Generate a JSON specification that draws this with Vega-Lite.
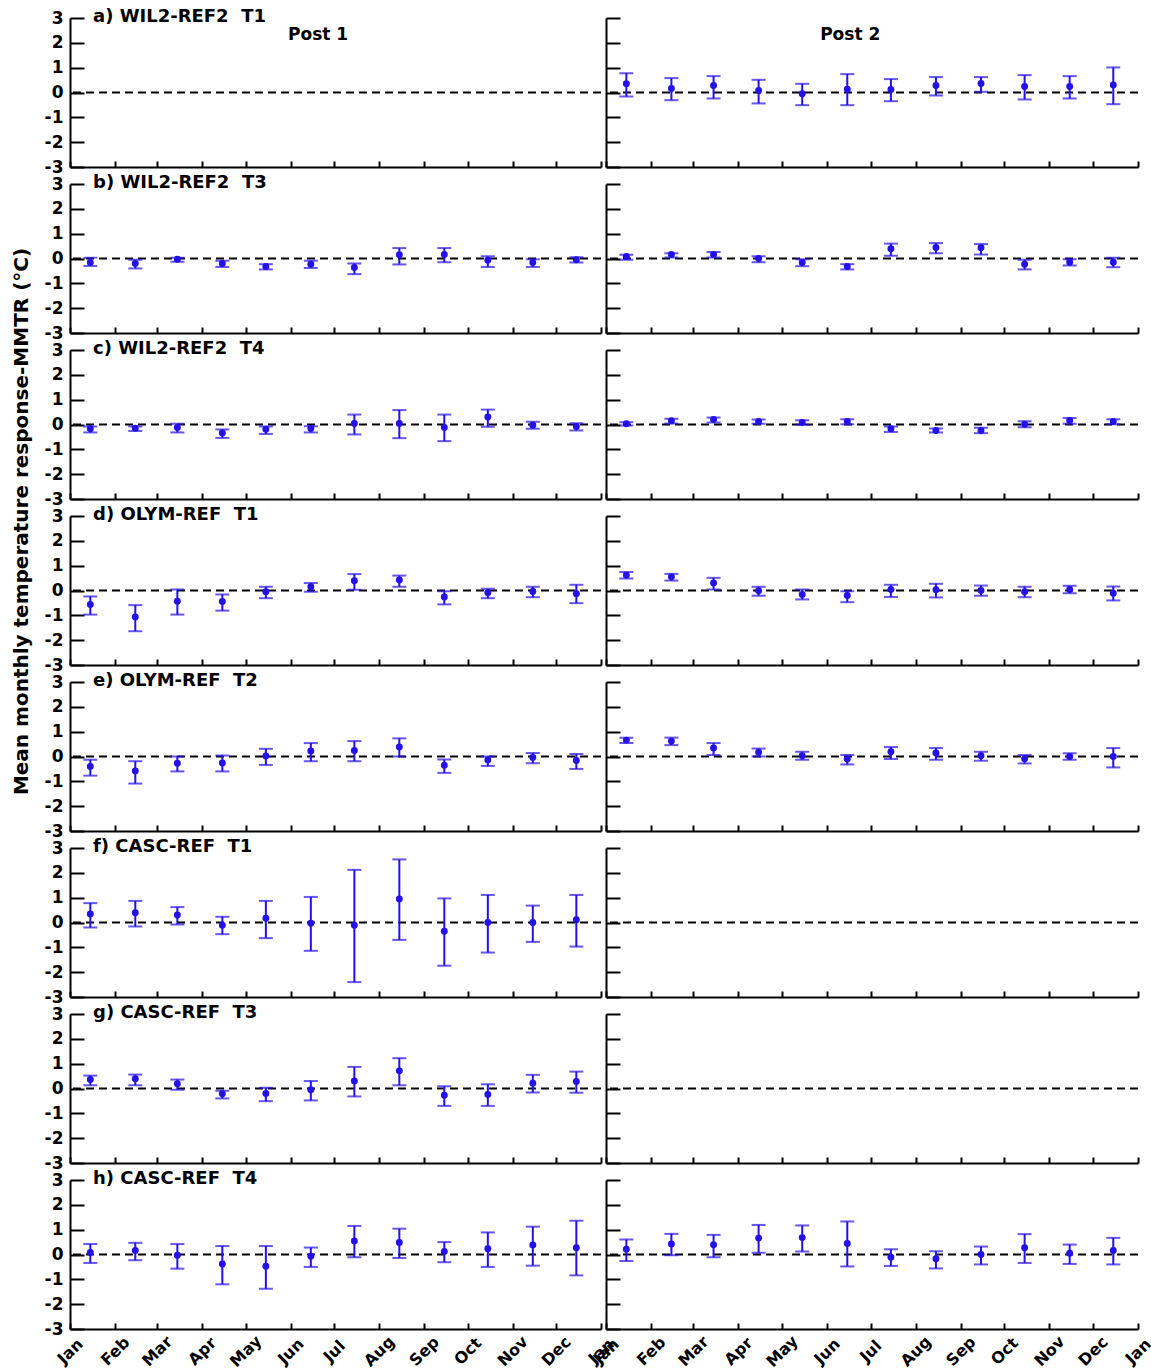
{
"$schema":"https://vega.github.io/schema/vega-lite/v6.json",
"padding":{"left":10,"top":8,"right":5,"bottom":5},
"bounds":"flush","spacing":{"row":17,"column":5},"columns":2,
"datasets":{"pts":[
{"p":"a","s":2,"m":"2000-01-15","v":0.35,"lo":-0.16,"hi":0.78},
{"p":"a","s":2,"m":"2000-02-15","v":0.16,"lo":-0.31,"hi":0.58},
{"p":"a","s":2,"m":"2000-03-15","v":0.28,"lo":-0.24,"hi":0.66},
{"p":"a","s":2,"m":"2000-04-15","v":0.08,"lo":-0.44,"hi":0.51},
{"p":"a","s":2,"m":"2000-05-15","v":-0.05,"lo":-0.51,"hi":0.35},
{"p":"a","s":2,"m":"2000-06-15","v":0.13,"lo":-0.51,"hi":0.74},
{"p":"a","s":2,"m":"2000-07-15","v":0.12,"lo":-0.35,"hi":0.54},
{"p":"a","s":2,"m":"2000-08-15","v":0.28,"lo":-0.12,"hi":0.62},
{"p":"a","s":2,"m":"2000-09-15","v":0.36,"lo":0.03,"hi":0.62},
{"p":"a","s":2,"m":"2000-10-15","v":0.24,"lo":-0.28,"hi":0.70},
{"p":"a","s":2,"m":"2000-11-15","v":0.24,"lo":-0.24,"hi":0.66},
{"p":"a","s":2,"m":"2000-12-15","v":0.30,"lo":-0.47,"hi":1.01},
{"p":"b","s":1,"m":"2000-01-15","v":-0.16,"lo":-0.30,"hi":0.03},
{"p":"b","s":1,"m":"2000-02-15","v":-0.20,"lo":-0.40,"hi":-0.05},
{"p":"b","s":1,"m":"2000-03-15","v":-0.03,"lo":-0.13,"hi":0.03},
{"p":"b","s":1,"m":"2000-04-15","v":-0.20,"lo":-0.34,"hi":-0.09},
{"p":"b","s":1,"m":"2000-05-15","v":-0.32,"lo":-0.44,"hi":-0.23},
{"p":"b","s":1,"m":"2000-06-15","v":-0.23,"lo":-0.38,"hi":-0.09},
{"p":"b","s":1,"m":"2000-07-15","v":-0.36,"lo":-0.63,"hi":-0.20},
{"p":"b","s":1,"m":"2000-08-15","v":0.15,"lo":-0.24,"hi":0.42},
{"p":"b","s":1,"m":"2000-09-15","v":0.16,"lo":-0.15,"hi":0.42},
{"p":"b","s":1,"m":"2000-10-15","v":-0.07,"lo":-0.34,"hi":0.09},
{"p":"b","s":1,"m":"2000-11-15","v":-0.16,"lo":-0.34,"hi":-0.03},
{"p":"b","s":1,"m":"2000-12-15","v":-0.05,"lo":-0.16,"hi":0.05},
{"p":"b","s":2,"m":"2000-01-15","v":0.08,"lo":-0.05,"hi":0.15},
{"p":"b","s":2,"m":"2000-02-15","v":0.16,"lo":0.04,"hi":0.21},
{"p":"b","s":2,"m":"2000-03-15","v":0.16,"lo":0.04,"hi":0.26},
{"p":"b","s":2,"m":"2000-04-15","v":0.00,"lo":-0.15,"hi":0.09},
{"p":"b","s":2,"m":"2000-05-15","v":-0.16,"lo":-0.31,"hi":-0.03},
{"p":"b","s":2,"m":"2000-06-15","v":-0.32,"lo":-0.44,"hi":-0.23},
{"p":"b","s":2,"m":"2000-07-15","v":0.39,"lo":0.11,"hi":0.60},
{"p":"b","s":2,"m":"2000-08-15","v":0.44,"lo":0.21,"hi":0.62},
{"p":"b","s":2,"m":"2000-09-15","v":0.43,"lo":0.16,"hi":0.58},
{"p":"b","s":2,"m":"2000-10-15","v":-0.23,"lo":-0.44,"hi":-0.05},
{"p":"b","s":2,"m":"2000-11-15","v":-0.15,"lo":-0.28,"hi":-0.03},
{"p":"b","s":2,"m":"2000-12-15","v":-0.15,"lo":-0.35,"hi":0.03},
{"p":"c","s":1,"m":"2000-01-15","v":-0.17,"lo":-0.32,"hi":-0.08},
{"p":"c","s":1,"m":"2000-02-15","v":-0.15,"lo":-0.26,"hi":-0.08},
{"p":"c","s":1,"m":"2000-03-15","v":-0.12,"lo":-0.32,"hi":0.03},
{"p":"c","s":1,"m":"2000-04-15","v":-0.34,"lo":-0.54,"hi":-0.20},
{"p":"c","s":1,"m":"2000-05-15","v":-0.19,"lo":-0.38,"hi":-0.08},
{"p":"c","s":1,"m":"2000-06-15","v":-0.16,"lo":-0.32,"hi":-0.07},
{"p":"c","s":1,"m":"2000-07-15","v":0.04,"lo":-0.40,"hi":0.40},
{"p":"c","s":1,"m":"2000-08-15","v":0.04,"lo":-0.55,"hi":0.58},
{"p":"c","s":1,"m":"2000-09-15","v":-0.12,"lo":-0.67,"hi":0.40},
{"p":"c","s":1,"m":"2000-10-15","v":0.30,"lo":-0.09,"hi":0.60},
{"p":"c","s":1,"m":"2000-11-15","v":-0.03,"lo":-0.17,"hi":0.11},
{"p":"c","s":1,"m":"2000-12-15","v":-0.08,"lo":-0.24,"hi":0.05},
{"p":"c","s":2,"m":"2000-01-15","v":0.03,"lo":-0.04,"hi":0.09},
{"p":"c","s":2,"m":"2000-02-15","v":0.15,"lo":0.04,"hi":0.23},
{"p":"c","s":2,"m":"2000-03-15","v":0.20,"lo":0.08,"hi":0.28},
{"p":"c","s":2,"m":"2000-04-15","v":0.12,"lo":0.03,"hi":0.20},
{"p":"c","s":2,"m":"2000-05-15","v":0.08,"lo":-0.01,"hi":0.17},
{"p":"c","s":2,"m":"2000-06-15","v":0.12,"lo":0.01,"hi":0.21},
{"p":"c","s":2,"m":"2000-07-15","v":-0.17,"lo":-0.30,"hi":-0.08},
{"p":"c","s":2,"m":"2000-08-15","v":-0.24,"lo":-0.32,"hi":-0.16},
{"p":"c","s":2,"m":"2000-09-15","v":-0.24,"lo":-0.35,"hi":-0.13},
{"p":"c","s":2,"m":"2000-10-15","v":0.01,"lo":-0.11,"hi":0.13},
{"p":"c","s":2,"m":"2000-11-15","v":0.16,"lo":0.03,"hi":0.26},
{"p":"c","s":2,"m":"2000-12-15","v":0.12,"lo":0.01,"hi":0.21},
{"p":"d","s":1,"m":"2000-01-15","v":-0.56,"lo":-0.97,"hi":-0.24},
{"p":"d","s":1,"m":"2000-02-15","v":-1.07,"lo":-1.64,"hi":-0.59},
{"p":"d","s":1,"m":"2000-03-15","v":-0.43,"lo":-0.97,"hi":0.04},
{"p":"d","s":1,"m":"2000-04-15","v":-0.44,"lo":-0.81,"hi":-0.16},
{"p":"d","s":1,"m":"2000-05-15","v":-0.05,"lo":-0.31,"hi":0.15},
{"p":"d","s":1,"m":"2000-06-15","v":0.15,"lo":-0.05,"hi":0.30},
{"p":"d","s":1,"m":"2000-07-15","v":0.39,"lo":0.03,"hi":0.66},
{"p":"d","s":1,"m":"2000-08-15","v":0.42,"lo":0.15,"hi":0.60},
{"p":"d","s":1,"m":"2000-09-15","v":-0.26,"lo":-0.56,"hi":-0.03},
{"p":"d","s":1,"m":"2000-10-15","v":-0.09,"lo":-0.31,"hi":0.07},
{"p":"d","s":1,"m":"2000-11-15","v":-0.04,"lo":-0.27,"hi":0.15},
{"p":"d","s":1,"m":"2000-12-15","v":-0.13,"lo":-0.51,"hi":0.23},
{"p":"d","s":2,"m":"2000-01-15","v":0.62,"lo":0.48,"hi":0.74},
{"p":"d","s":2,"m":"2000-02-15","v":0.55,"lo":0.40,"hi":0.67},
{"p":"d","s":2,"m":"2000-03-15","v":0.30,"lo":0.04,"hi":0.51},
{"p":"d","s":2,"m":"2000-04-15","v":-0.01,"lo":-0.21,"hi":0.15},
{"p":"d","s":2,"m":"2000-05-15","v":-0.16,"lo":-0.36,"hi":0.04},
{"p":"d","s":2,"m":"2000-06-15","v":-0.20,"lo":-0.47,"hi":-0.03},
{"p":"d","s":2,"m":"2000-07-15","v":0.04,"lo":-0.26,"hi":0.23},
{"p":"d","s":2,"m":"2000-08-15","v":0.03,"lo":-0.28,"hi":0.27},
{"p":"d","s":2,"m":"2000-09-15","v":0.00,"lo":-0.21,"hi":0.20},
{"p":"d","s":2,"m":"2000-10-15","v":-0.05,"lo":-0.27,"hi":0.15},
{"p":"d","s":2,"m":"2000-11-15","v":0.04,"lo":-0.11,"hi":0.19},
{"p":"d","s":2,"m":"2000-12-15","v":-0.11,"lo":-0.40,"hi":0.16},
{"p":"e","s":1,"m":"2000-01-15","v":-0.40,"lo":-0.77,"hi":-0.13},
{"p":"e","s":1,"m":"2000-02-15","v":-0.58,"lo":-1.09,"hi":-0.19},
{"p":"e","s":1,"m":"2000-03-15","v":-0.27,"lo":-0.60,"hi":0.00},
{"p":"e","s":1,"m":"2000-04-15","v":-0.26,"lo":-0.60,"hi":0.04},
{"p":"e","s":1,"m":"2000-05-15","v":0.02,"lo":-0.34,"hi":0.31},
{"p":"e","s":1,"m":"2000-06-15","v":0.22,"lo":-0.19,"hi":0.54},
{"p":"e","s":1,"m":"2000-07-15","v":0.24,"lo":-0.19,"hi":0.62},
{"p":"e","s":1,"m":"2000-08-15","v":0.38,"lo":0.00,"hi":0.73},
{"p":"e","s":1,"m":"2000-09-15","v":-0.35,"lo":-0.66,"hi":-0.12},
{"p":"e","s":1,"m":"2000-10-15","v":-0.14,"lo":-0.38,"hi":0.00},
{"p":"e","s":1,"m":"2000-11-15","v":-0.04,"lo":-0.27,"hi":0.14},
{"p":"e","s":1,"m":"2000-12-15","v":-0.16,"lo":-0.50,"hi":0.10},
{"p":"e","s":2,"m":"2000-01-15","v":0.66,"lo":0.54,"hi":0.76},
{"p":"e","s":2,"m":"2000-02-15","v":0.62,"lo":0.46,"hi":0.76},
{"p":"e","s":2,"m":"2000-03-15","v":0.34,"lo":0.06,"hi":0.54},
{"p":"e","s":2,"m":"2000-04-15","v":0.17,"lo":0.00,"hi":0.32},
{"p":"e","s":2,"m":"2000-05-15","v":0.03,"lo":-0.13,"hi":0.19},
{"p":"e","s":2,"m":"2000-06-15","v":-0.10,"lo":-0.32,"hi":0.06},
{"p":"e","s":2,"m":"2000-07-15","v":0.19,"lo":-0.10,"hi":0.38},
{"p":"e","s":2,"m":"2000-08-15","v":0.14,"lo":-0.13,"hi":0.34},
{"p":"e","s":2,"m":"2000-09-15","v":0.03,"lo":-0.17,"hi":0.19},
{"p":"e","s":2,"m":"2000-10-15","v":-0.09,"lo":-0.28,"hi":0.06},
{"p":"e","s":2,"m":"2000-11-15","v":0.00,"lo":-0.13,"hi":0.13},
{"p":"e","s":2,"m":"2000-12-15","v":0.00,"lo":-0.44,"hi":0.34},
{"p":"f","s":1,"m":"2000-01-15","v":0.34,"lo":-0.20,"hi":0.78},
{"p":"f","s":1,"m":"2000-02-15","v":0.39,"lo":-0.16,"hi":0.87},
{"p":"f","s":1,"m":"2000-03-15","v":0.30,"lo":-0.08,"hi":0.62},
{"p":"f","s":1,"m":"2000-04-15","v":-0.11,"lo":-0.47,"hi":0.23},
{"p":"f","s":1,"m":"2000-05-15","v":0.17,"lo":-0.63,"hi":0.87},
{"p":"f","s":1,"m":"2000-06-15","v":-0.03,"lo":-1.14,"hi":1.03},
{"p":"f","s":1,"m":"2000-07-15","v":-0.11,"lo":-2.40,"hi":2.12},
{"p":"f","s":1,"m":"2000-08-15","v":0.95,"lo":-0.70,"hi":2.54},
{"p":"f","s":1,"m":"2000-09-15","v":-0.35,"lo":-1.74,"hi":0.97},
{"p":"f","s":1,"m":"2000-10-15","v":0.00,"lo":-1.21,"hi":1.11},
{"p":"f","s":1,"m":"2000-11-15","v":0.00,"lo":-0.78,"hi":0.68},
{"p":"f","s":1,"m":"2000-12-15","v":0.11,"lo":-0.97,"hi":1.11},
{"p":"g","s":1,"m":"2000-01-15","v":0.36,"lo":0.13,"hi":0.52},
{"p":"g","s":1,"m":"2000-02-15","v":0.39,"lo":0.13,"hi":0.56},
{"p":"g","s":1,"m":"2000-03-15","v":0.19,"lo":-0.05,"hi":0.36},
{"p":"g","s":1,"m":"2000-04-15","v":-0.21,"lo":-0.40,"hi":-0.09},
{"p":"g","s":1,"m":"2000-05-15","v":-0.20,"lo":-0.51,"hi":0.03},
{"p":"g","s":1,"m":"2000-06-15","v":-0.05,"lo":-0.48,"hi":0.30},
{"p":"g","s":1,"m":"2000-07-15","v":0.30,"lo":-0.32,"hi":0.87},
{"p":"g","s":1,"m":"2000-08-15","v":0.71,"lo":0.13,"hi":1.22},
{"p":"g","s":1,"m":"2000-09-15","v":-0.27,"lo":-0.70,"hi":0.09},
{"p":"g","s":1,"m":"2000-10-15","v":-0.24,"lo":-0.70,"hi":0.17},
{"p":"g","s":1,"m":"2000-11-15","v":0.21,"lo":-0.16,"hi":0.55},
{"p":"g","s":1,"m":"2000-12-15","v":0.28,"lo":-0.17,"hi":0.68},
{"p":"h","s":1,"m":"2000-01-15","v":0.08,"lo":-0.34,"hi":0.42},
{"p":"h","s":1,"m":"2000-02-15","v":0.16,"lo":-0.23,"hi":0.47},
{"p":"h","s":1,"m":"2000-03-15","v":-0.03,"lo":-0.57,"hi":0.42},
{"p":"h","s":1,"m":"2000-04-15","v":-0.38,"lo":-1.20,"hi":0.34},
{"p":"h","s":1,"m":"2000-05-15","v":-0.47,"lo":-1.38,"hi":0.34},
{"p":"h","s":1,"m":"2000-06-15","v":-0.07,"lo":-0.50,"hi":0.28},
{"p":"h","s":1,"m":"2000-07-15","v":0.54,"lo":-0.11,"hi":1.15},
{"p":"h","s":1,"m":"2000-08-15","v":0.48,"lo":-0.14,"hi":1.04},
{"p":"h","s":1,"m":"2000-09-15","v":0.12,"lo":-0.31,"hi":0.50},
{"p":"h","s":1,"m":"2000-10-15","v":0.23,"lo":-0.50,"hi":0.89},
{"p":"h","s":1,"m":"2000-11-15","v":0.38,"lo":-0.45,"hi":1.12},
{"p":"h","s":1,"m":"2000-12-15","v":0.27,"lo":-0.84,"hi":1.36},
{"p":"h","s":2,"m":"2000-01-15","v":0.21,"lo":-0.26,"hi":0.60},
{"p":"h","s":2,"m":"2000-02-15","v":0.42,"lo":-0.03,"hi":0.83},
{"p":"h","s":2,"m":"2000-03-15","v":0.39,"lo":-0.11,"hi":0.79},
{"p":"h","s":2,"m":"2000-04-15","v":0.66,"lo":0.07,"hi":1.19},
{"p":"h","s":2,"m":"2000-05-15","v":0.68,"lo":0.12,"hi":1.17},
{"p":"h","s":2,"m":"2000-06-15","v":0.44,"lo":-0.48,"hi":1.33},
{"p":"h","s":2,"m":"2000-07-15","v":-0.11,"lo":-0.46,"hi":0.21},
{"p":"h","s":2,"m":"2000-08-15","v":-0.17,"lo":-0.56,"hi":0.13},
{"p":"h","s":2,"m":"2000-09-15","v":0.00,"lo":-0.40,"hi":0.32},
{"p":"h","s":2,"m":"2000-10-15","v":0.27,"lo":-0.34,"hi":0.82},
{"p":"h","s":2,"m":"2000-11-15","v":0.05,"lo":-0.38,"hi":0.40},
{"p":"h","s":2,"m":"2000-12-15","v":0.16,"lo":-0.40,"hi":0.67}
]},
"config":{
"view":{"stroke":null},
"font":"DejaVu Sans",
"rule":{"color":"#2410e8","strokeWidth":2},
"tick":{"color":"#2410e8","thickness":2},
"circle":{"color":"#2410e8","size":48,"opacity":1},
"text":{"font":"DejaVu Sans","fontWeight":"bold","fontSize":18,"color":"black","align":"left","baseline":"middle"},
"axis":{"domainColor":"black","domainWidth":2,"tickColor":"black","tickWidth":2,"labelFont":"DejaVu Sans","labelFontWeight":"bold","labelColor":"black","titleFont":"DejaVu Sans","titleFontWeight":"bold","titleColor":"black","grid":false},
"axisX":{"tickSize":-6,"labels":false,"tickCount":{"interval":"month","step":1},"format":"%b","labelAngle":-45,"labelAlign":"center","labelBaseline":"middle","labelPadding":28,"labelFontSize":16,"labelFlush":false,"labelOverlap":false},
"axisY":{"tickSize":-14,"tickCount":7,"labelFontSize":17,"labelPadding":21,"titleFontSize":20,"labelExpr":"datum.value + ''"}
},
"concat":[
{"width":531,"height":149,"layer":[
{"data":{"values":[{}]},"mark":{"type":"rule","color":"black","strokeWidth":2,"strokeDash":[8,5]},"encoding":{"y":{"datum":0,"type":"quantitative","scale":{"domain":[-3,3]},"title":null}}},
{"data":{"name":"pts"},"transform":[{"filter":"datum.p=='a'&&datum.s==1"}],"encoding":{"x":{"field":"m","type":"temporal","title":null,"scale":{"domain":[{"year":2000,"month":1,"date":1},{"year":2001,"month":1,"date":1}]}}},"layer":[
{"mark":"rule","encoding":{"y":{"field":"lo","type":"quantitative","title":null},"y2":{"field":"hi"}}},
{"mark":{"type":"tick","orient":"horizontal","size":14},"encoding":{"y":{"field":"lo","type":"quantitative","title":null}}},
{"mark":{"type":"tick","orient":"horizontal","size":14},"encoding":{"y":{"field":"hi","type":"quantitative","title":null}}},
{"mark":"circle","encoding":{"y":{"field":"v","type":"quantitative","title":null}}}]},
{"data":{"values":[{"t":"a) WIL2-REF2\u00a0 T1"}]},"mark":{"type":"text","dx":23,"dy":-1},"encoding":{"x":{"datum":{"year":2000,"month":1,"date":1},"type":"temporal"},"y":{"datum":3,"type":"quantitative"},"text":{"field":"t"}}},
{"data":{"values":[{"t":"Post 1"}]},"mark":{"type":"text","align":"center","fontSize":17,"dy":17},"encoding":{"x":{"datum":{"year":2000,"month":6,"date":20},"type":"temporal"},"y":{"datum":3,"type":"quantitative"},"text":{"field":"t"}}}
]},
{"width":532,"height":149,"layer":[
{"data":{"values":[{}]},"mark":{"type":"rule","color":"black","strokeWidth":2,"strokeDash":[8,5]},"encoding":{"y":{"datum":0,"type":"quantitative","scale":{"domain":[-3,3]},"title":null,"axis":{"labels":false}}}},
{"data":{"name":"pts"},"transform":[{"filter":"datum.p=='a'&&datum.s==2"}],"encoding":{"x":{"field":"m","type":"temporal","title":null,"scale":{"domain":[{"year":2000,"month":1,"date":1},{"year":2001,"month":1,"date":1}]}}},"layer":[
{"mark":"rule","encoding":{"y":{"field":"lo","type":"quantitative","title":null},"y2":{"field":"hi"}}},
{"mark":{"type":"tick","orient":"horizontal","size":14},"encoding":{"y":{"field":"lo","type":"quantitative","title":null}}},
{"mark":{"type":"tick","orient":"horizontal","size":14},"encoding":{"y":{"field":"hi","type":"quantitative","title":null}}},
{"mark":"circle","encoding":{"y":{"field":"v","type":"quantitative","title":null}}}]},
{"data":{"values":[{"t":"Post 2"}]},"mark":{"type":"text","align":"center","fontSize":17,"dy":17},"encoding":{"x":{"datum":{"year":2000,"month":6,"date":17},"type":"temporal"},"y":{"datum":3,"type":"quantitative"},"text":{"field":"t"}}}
]},
{"width":531,"height":149,"layer":[
{"data":{"values":[{}]},"mark":{"type":"rule","color":"black","strokeWidth":2,"strokeDash":[8,5]},"encoding":{"y":{"datum":0,"type":"quantitative","scale":{"domain":[-3,3]},"title":null}}},
{"data":{"name":"pts"},"transform":[{"filter":"datum.p=='b'&&datum.s==1"}],"encoding":{"x":{"field":"m","type":"temporal","title":null,"scale":{"domain":[{"year":2000,"month":1,"date":1},{"year":2001,"month":1,"date":1}]}}},"layer":[
{"mark":"rule","encoding":{"y":{"field":"lo","type":"quantitative","title":null},"y2":{"field":"hi"}}},
{"mark":{"type":"tick","orient":"horizontal","size":14},"encoding":{"y":{"field":"lo","type":"quantitative","title":null}}},
{"mark":{"type":"tick","orient":"horizontal","size":14},"encoding":{"y":{"field":"hi","type":"quantitative","title":null}}},
{"mark":"circle","encoding":{"y":{"field":"v","type":"quantitative","title":null}}}]},
{"data":{"values":[{"t":"b) WIL2-REF2\u00a0 T3"}]},"mark":{"type":"text","dx":23,"dy":-1},"encoding":{"x":{"datum":{"year":2000,"month":1,"date":1},"type":"temporal"},"y":{"datum":3,"type":"quantitative"},"text":{"field":"t"}}}
]},
{"width":532,"height":149,"layer":[
{"data":{"values":[{}]},"mark":{"type":"rule","color":"black","strokeWidth":2,"strokeDash":[8,5]},"encoding":{"y":{"datum":0,"type":"quantitative","scale":{"domain":[-3,3]},"title":null,"axis":{"labels":false}}}},
{"data":{"name":"pts"},"transform":[{"filter":"datum.p=='b'&&datum.s==2"}],"encoding":{"x":{"field":"m","type":"temporal","title":null,"scale":{"domain":[{"year":2000,"month":1,"date":1},{"year":2001,"month":1,"date":1}]}}},"layer":[
{"mark":"rule","encoding":{"y":{"field":"lo","type":"quantitative","title":null},"y2":{"field":"hi"}}},
{"mark":{"type":"tick","orient":"horizontal","size":14},"encoding":{"y":{"field":"lo","type":"quantitative","title":null}}},
{"mark":{"type":"tick","orient":"horizontal","size":14},"encoding":{"y":{"field":"hi","type":"quantitative","title":null}}},
{"mark":"circle","encoding":{"y":{"field":"v","type":"quantitative","title":null}}}]}
]},
{"width":531,"height":149,"layer":[
{"data":{"values":[{}]},"mark":{"type":"rule","color":"black","strokeWidth":2,"strokeDash":[8,5]},"encoding":{"y":{"datum":0,"type":"quantitative","scale":{"domain":[-3,3]},"title":null}}},
{"data":{"name":"pts"},"transform":[{"filter":"datum.p=='c'&&datum.s==1"}],"encoding":{"x":{"field":"m","type":"temporal","title":null,"scale":{"domain":[{"year":2000,"month":1,"date":1},{"year":2001,"month":1,"date":1}]}}},"layer":[
{"mark":"rule","encoding":{"y":{"field":"lo","type":"quantitative","title":null},"y2":{"field":"hi"}}},
{"mark":{"type":"tick","orient":"horizontal","size":14},"encoding":{"y":{"field":"lo","type":"quantitative","title":null}}},
{"mark":{"type":"tick","orient":"horizontal","size":14},"encoding":{"y":{"field":"hi","type":"quantitative","title":null}}},
{"mark":"circle","encoding":{"y":{"field":"v","type":"quantitative","title":null}}}]},
{"data":{"values":[{"t":"c) WIL2-REF2\u00a0 T4"}]},"mark":{"type":"text","dx":23,"dy":-1},"encoding":{"x":{"datum":{"year":2000,"month":1,"date":1},"type":"temporal"},"y":{"datum":3,"type":"quantitative"},"text":{"field":"t"}}}
]},
{"width":532,"height":149,"layer":[
{"data":{"values":[{}]},"mark":{"type":"rule","color":"black","strokeWidth":2,"strokeDash":[8,5]},"encoding":{"y":{"datum":0,"type":"quantitative","scale":{"domain":[-3,3]},"title":null,"axis":{"labels":false}}}},
{"data":{"name":"pts"},"transform":[{"filter":"datum.p=='c'&&datum.s==2"}],"encoding":{"x":{"field":"m","type":"temporal","title":null,"scale":{"domain":[{"year":2000,"month":1,"date":1},{"year":2001,"month":1,"date":1}]}}},"layer":[
{"mark":"rule","encoding":{"y":{"field":"lo","type":"quantitative","title":null},"y2":{"field":"hi"}}},
{"mark":{"type":"tick","orient":"horizontal","size":14},"encoding":{"y":{"field":"lo","type":"quantitative","title":null}}},
{"mark":{"type":"tick","orient":"horizontal","size":14},"encoding":{"y":{"field":"hi","type":"quantitative","title":null}}},
{"mark":"circle","encoding":{"y":{"field":"v","type":"quantitative","title":null}}}]}
]},
{"width":531,"height":149,"layer":[
{"data":{"values":[{}]},"mark":{"type":"rule","color":"black","strokeWidth":2,"strokeDash":[8,5]},"encoding":{"y":{"datum":0,"type":"quantitative","scale":{"domain":[-3,3]},"title":"Mean monthly temperature response-MMTR (°C)","axis":{"titleX":-39,"titleY":5}}}},
{"data":{"name":"pts"},"transform":[{"filter":"datum.p=='d'&&datum.s==1"}],"encoding":{"x":{"field":"m","type":"temporal","title":null,"scale":{"domain":[{"year":2000,"month":1,"date":1},{"year":2001,"month":1,"date":1}]}}},"layer":[
{"mark":"rule","encoding":{"y":{"field":"lo","type":"quantitative","title":"Mean monthly temperature response-MMTR (°C)"},"y2":{"field":"hi"}}},
{"mark":{"type":"tick","orient":"horizontal","size":14},"encoding":{"y":{"field":"lo","type":"quantitative","title":"Mean monthly temperature response-MMTR (°C)"}}},
{"mark":{"type":"tick","orient":"horizontal","size":14},"encoding":{"y":{"field":"hi","type":"quantitative","title":"Mean monthly temperature response-MMTR (°C)"}}},
{"mark":"circle","encoding":{"y":{"field":"v","type":"quantitative","title":"Mean monthly temperature response-MMTR (°C)"}}}]},
{"data":{"values":[{"t":"d) OLYM-REF\u00a0 T1"}]},"mark":{"type":"text","dx":23,"dy":-1},"encoding":{"x":{"datum":{"year":2000,"month":1,"date":1},"type":"temporal"},"y":{"datum":3,"type":"quantitative"},"text":{"field":"t"}}}
]},
{"width":532,"height":149,"layer":[
{"data":{"values":[{}]},"mark":{"type":"rule","color":"black","strokeWidth":2,"strokeDash":[8,5]},"encoding":{"y":{"datum":0,"type":"quantitative","scale":{"domain":[-3,3]},"title":null,"axis":{"labels":false}}}},
{"data":{"name":"pts"},"transform":[{"filter":"datum.p=='d'&&datum.s==2"}],"encoding":{"x":{"field":"m","type":"temporal","title":null,"scale":{"domain":[{"year":2000,"month":1,"date":1},{"year":2001,"month":1,"date":1}]}}},"layer":[
{"mark":"rule","encoding":{"y":{"field":"lo","type":"quantitative","title":null},"y2":{"field":"hi"}}},
{"mark":{"type":"tick","orient":"horizontal","size":14},"encoding":{"y":{"field":"lo","type":"quantitative","title":null}}},
{"mark":{"type":"tick","orient":"horizontal","size":14},"encoding":{"y":{"field":"hi","type":"quantitative","title":null}}},
{"mark":"circle","encoding":{"y":{"field":"v","type":"quantitative","title":null}}}]}
]},
{"width":531,"height":149,"layer":[
{"data":{"values":[{}]},"mark":{"type":"rule","color":"black","strokeWidth":2,"strokeDash":[8,5]},"encoding":{"y":{"datum":0,"type":"quantitative","scale":{"domain":[-3,3]},"title":null}}},
{"data":{"name":"pts"},"transform":[{"filter":"datum.p=='e'&&datum.s==1"}],"encoding":{"x":{"field":"m","type":"temporal","title":null,"scale":{"domain":[{"year":2000,"month":1,"date":1},{"year":2001,"month":1,"date":1}]}}},"layer":[
{"mark":"rule","encoding":{"y":{"field":"lo","type":"quantitative","title":null},"y2":{"field":"hi"}}},
{"mark":{"type":"tick","orient":"horizontal","size":14},"encoding":{"y":{"field":"lo","type":"quantitative","title":null}}},
{"mark":{"type":"tick","orient":"horizontal","size":14},"encoding":{"y":{"field":"hi","type":"quantitative","title":null}}},
{"mark":"circle","encoding":{"y":{"field":"v","type":"quantitative","title":null}}}]},
{"data":{"values":[{"t":"e) OLYM-REF\u00a0 T2"}]},"mark":{"type":"text","dx":23,"dy":-1},"encoding":{"x":{"datum":{"year":2000,"month":1,"date":1},"type":"temporal"},"y":{"datum":3,"type":"quantitative"},"text":{"field":"t"}}}
]},
{"width":532,"height":149,"layer":[
{"data":{"values":[{}]},"mark":{"type":"rule","color":"black","strokeWidth":2,"strokeDash":[8,5]},"encoding":{"y":{"datum":0,"type":"quantitative","scale":{"domain":[-3,3]},"title":null,"axis":{"labels":false}}}},
{"data":{"name":"pts"},"transform":[{"filter":"datum.p=='e'&&datum.s==2"}],"encoding":{"x":{"field":"m","type":"temporal","title":null,"scale":{"domain":[{"year":2000,"month":1,"date":1},{"year":2001,"month":1,"date":1}]}}},"layer":[
{"mark":"rule","encoding":{"y":{"field":"lo","type":"quantitative","title":null},"y2":{"field":"hi"}}},
{"mark":{"type":"tick","orient":"horizontal","size":14},"encoding":{"y":{"field":"lo","type":"quantitative","title":null}}},
{"mark":{"type":"tick","orient":"horizontal","size":14},"encoding":{"y":{"field":"hi","type":"quantitative","title":null}}},
{"mark":"circle","encoding":{"y":{"field":"v","type":"quantitative","title":null}}}]}
]},
{"width":531,"height":149,"layer":[
{"data":{"values":[{}]},"mark":{"type":"rule","color":"black","strokeWidth":2,"strokeDash":[8,5]},"encoding":{"y":{"datum":0,"type":"quantitative","scale":{"domain":[-3,3]},"title":null}}},
{"data":{"name":"pts"},"transform":[{"filter":"datum.p=='f'&&datum.s==1"}],"encoding":{"x":{"field":"m","type":"temporal","title":null,"scale":{"domain":[{"year":2000,"month":1,"date":1},{"year":2001,"month":1,"date":1}]}}},"layer":[
{"mark":"rule","encoding":{"y":{"field":"lo","type":"quantitative","title":null},"y2":{"field":"hi"}}},
{"mark":{"type":"tick","orient":"horizontal","size":14},"encoding":{"y":{"field":"lo","type":"quantitative","title":null}}},
{"mark":{"type":"tick","orient":"horizontal","size":14},"encoding":{"y":{"field":"hi","type":"quantitative","title":null}}},
{"mark":"circle","encoding":{"y":{"field":"v","type":"quantitative","title":null}}}]},
{"data":{"values":[{"t":"f) CASC-REF\u00a0 T1"}]},"mark":{"type":"text","dx":23,"dy":-1},"encoding":{"x":{"datum":{"year":2000,"month":1,"date":1},"type":"temporal"},"y":{"datum":3,"type":"quantitative"},"text":{"field":"t"}}}
]},
{"width":532,"height":149,"layer":[
{"data":{"values":[{}]},"mark":{"type":"rule","color":"black","strokeWidth":2,"strokeDash":[8,5]},"encoding":{"y":{"datum":0,"type":"quantitative","scale":{"domain":[-3,3]},"title":null,"axis":{"labels":false}}}},
{"data":{"name":"pts"},"transform":[{"filter":"datum.p=='f'&&datum.s==2"}],"encoding":{"x":{"field":"m","type":"temporal","title":null,"scale":{"domain":[{"year":2000,"month":1,"date":1},{"year":2001,"month":1,"date":1}]}}},"layer":[
{"mark":"rule","encoding":{"y":{"field":"lo","type":"quantitative","title":null},"y2":{"field":"hi"}}},
{"mark":"circle","encoding":{"y":{"field":"v","type":"quantitative","title":null}}}]}
]},
{"width":531,"height":149,"layer":[
{"data":{"values":[{}]},"mark":{"type":"rule","color":"black","strokeWidth":2,"strokeDash":[8,5]},"encoding":{"y":{"datum":0,"type":"quantitative","scale":{"domain":[-3,3]},"title":null}}},
{"data":{"name":"pts"},"transform":[{"filter":"datum.p=='g'&&datum.s==1"}],"encoding":{"x":{"field":"m","type":"temporal","title":null,"scale":{"domain":[{"year":2000,"month":1,"date":1},{"year":2001,"month":1,"date":1}]}}},"layer":[
{"mark":"rule","encoding":{"y":{"field":"lo","type":"quantitative","title":null},"y2":{"field":"hi"}}},
{"mark":{"type":"tick","orient":"horizontal","size":14},"encoding":{"y":{"field":"lo","type":"quantitative","title":null}}},
{"mark":{"type":"tick","orient":"horizontal","size":14},"encoding":{"y":{"field":"hi","type":"quantitative","title":null}}},
{"mark":"circle","encoding":{"y":{"field":"v","type":"quantitative","title":null}}}]},
{"data":{"values":[{"t":"g) CASC-REF\u00a0 T3"}]},"mark":{"type":"text","dx":23,"dy":-1},"encoding":{"x":{"datum":{"year":2000,"month":1,"date":1},"type":"temporal"},"y":{"datum":3,"type":"quantitative"},"text":{"field":"t"}}}
]},
{"width":532,"height":149,"layer":[
{"data":{"values":[{}]},"mark":{"type":"rule","color":"black","strokeWidth":2,"strokeDash":[8,5]},"encoding":{"y":{"datum":0,"type":"quantitative","scale":{"domain":[-3,3]},"title":null,"axis":{"labels":false}}}},
{"data":{"name":"pts"},"transform":[{"filter":"datum.p=='g'&&datum.s==2"}],"encoding":{"x":{"field":"m","type":"temporal","title":null,"scale":{"domain":[{"year":2000,"month":1,"date":1},{"year":2001,"month":1,"date":1}]}}},"layer":[
{"mark":"rule","encoding":{"y":{"field":"lo","type":"quantitative","title":null},"y2":{"field":"hi"}}},
{"mark":"circle","encoding":{"y":{"field":"v","type":"quantitative","title":null}}}]}
]},
{"width":531,"height":149,"layer":[
{"data":{"values":[{}]},"mark":{"type":"rule","color":"black","strokeWidth":2,"strokeDash":[8,5]},"encoding":{"y":{"datum":0,"type":"quantitative","scale":{"domain":[-3,3]},"title":null}}},
{"data":{"name":"pts"},"transform":[{"filter":"datum.p=='h'&&datum.s==1"}],"encoding":{"x":{"field":"m","type":"temporal","title":null,"scale":{"domain":[{"year":2000,"month":1,"date":1},{"year":2001,"month":1,"date":1}]},"axis":{"labels":true}}},"layer":[
{"mark":"rule","encoding":{"y":{"field":"lo","type":"quantitative","title":null},"y2":{"field":"hi"}}},
{"mark":{"type":"tick","orient":"horizontal","size":14},"encoding":{"y":{"field":"lo","type":"quantitative","title":null}}},
{"mark":{"type":"tick","orient":"horizontal","size":14},"encoding":{"y":{"field":"hi","type":"quantitative","title":null}}},
{"mark":"circle","encoding":{"y":{"field":"v","type":"quantitative","title":null}}}]},
{"data":{"values":[{"t":"h) CASC-REF\u00a0 T4"}]},"mark":{"type":"text","dx":23,"dy":-1},"encoding":{"x":{"datum":{"year":2000,"month":1,"date":1},"type":"temporal"},"y":{"datum":3,"type":"quantitative"},"text":{"field":"t"}}}
]},
{"width":532,"height":149,"layer":[
{"data":{"values":[{}]},"mark":{"type":"rule","color":"black","strokeWidth":2,"strokeDash":[8,5]},"encoding":{"y":{"datum":0,"type":"quantitative","scale":{"domain":[-3,3]},"title":null,"axis":{"labels":false}}}},
{"data":{"name":"pts"},"transform":[{"filter":"datum.p=='h'&&datum.s==2"}],"encoding":{"x":{"field":"m","type":"temporal","title":null,"scale":{"domain":[{"year":2000,"month":1,"date":1},{"year":2001,"month":1,"date":1}]},"axis":{"labels":true}}},"layer":[
{"mark":"rule","encoding":{"y":{"field":"lo","type":"quantitative","title":null},"y2":{"field":"hi"}}},
{"mark":{"type":"tick","orient":"horizontal","size":14},"encoding":{"y":{"field":"lo","type":"quantitative","title":null}}},
{"mark":{"type":"tick","orient":"horizontal","size":14},"encoding":{"y":{"field":"hi","type":"quantitative","title":null}}},
{"mark":"circle","encoding":{"y":{"field":"v","type":"quantitative","title":null}}}]}
]}
]
}
